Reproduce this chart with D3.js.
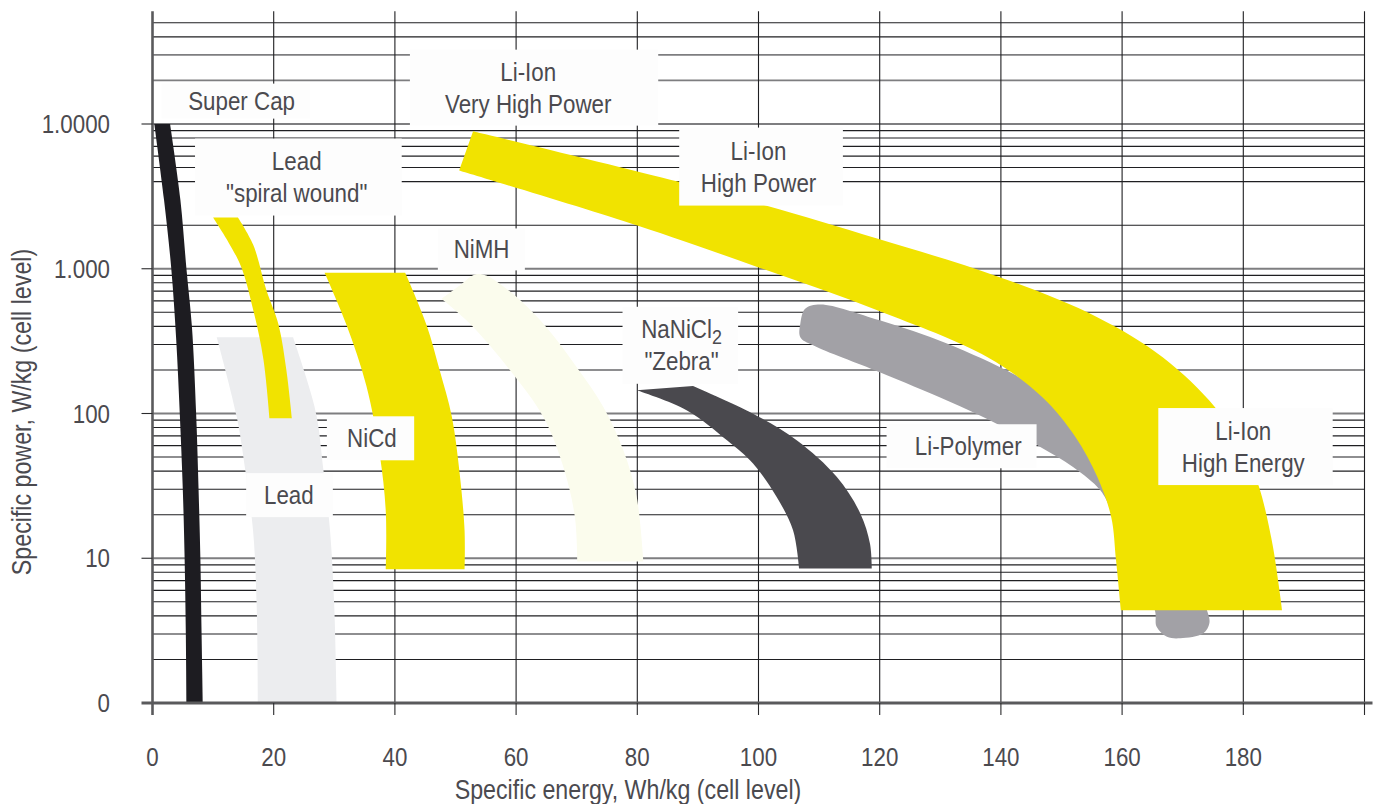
<!DOCTYPE html>
<html>
<head>
<meta charset="utf-8">
<script src="https://cdn.jsdelivr.net/npm/d3@7"></script>
<style>
  html, body { margin: 0; padding: 0; background: #ffffff; }
  svg { display: block; }
  text { font-family: "Liberation Sans", Arial, sans-serif; fill: #4b4a4f; }
</style>
</head>
<body>
<svg id="chart" width="1392" height="804"></svg>
<script>
// ---- axes ----
const energyTicks = [0, 20, 40, 60, 80, 100, 120, 140, 160, 180, 200];
const energyTickLabels = ["0", "20", "40", "60", "80", "100", "120", "140", "160", "180", ""];
const powerTicks = [1, 10, 100, 1000, 10000];
const powerTickLabels = ["0", "10", "100", "1.000", "1.0000"];
const powerTop = 60000;

// ---- technology regions: [specific energy Wh/kg, specific power W/kg] ----
const superCapLeft  = [[0.3, 10000], [1.9, 3000], [3.1, 1000], [3.9, 330], [4.5, 100], [5.0, 30], [5.3, 10], [5.5, 3], [5.6, 1]];
const superCapRight = [[2.9, 10000], [4.6, 3000], [5.6, 1000], [6.5, 400], [7.2, 100], [7.6, 30], [7.9, 10], [8.1, 3], [8.3, 1]];

const spiralOuter = [[14.1, 2260], [16.6, 1470], [18.8, 710], [20.8, 411], [22.1, 198], [23.0, 92.7]];
const spiralInner = [[10.0, 2260], [14.4, 1088], [16.6, 524], [18.3, 237], [19.3, 92.7]];

const leadLeft  = [[10.6, 336], [13.9, 95], [15.3, 40.8], [16.6, 15.4], [17.2, 4.56], [17.4, 1]];
const leadRight = [[23.2, 336], [25.4, 175], [27.1, 95], [28.2, 40.8], [29.3, 15.4], [30.0, 4.56], [30.4, 1]];

const nicdLeft  = [[28.4, 938], [32.0, 411], [35.3, 155], [37.5, 52], [38.5, 20.9], [38.5, 8.4]];
const nicdRight = [[41.7, 938], [45.2, 411], [47.4, 198], [49.4, 95], [50.7, 38], [51.5, 15.4], [51.5, 8.4]];

const nimhOuter = [[47.7, 621], [50.7, 767], [53.2, 914], [55.1, 899], [57.3, 788], [60.1, 637], [65.0, 395], [70.0, 209], [74.4, 111], [77.7, 55.7], [79.9, 26.5], [81.0, 9.5]];
const nimhInner = [[47.7, 621], [52.4, 417], [59.0, 199], [64.5, 94.6], [67.8, 42.7], [69.7, 19.3], [70.1, 9.5]];

const zebraOuter = [[89.2, 155], [99.1, 99.8], [106.3, 65.3], [112.9, 36.5], [116.8, 20.4], [118.4, 12.6], [118.7, 8.5]];
const zebraInner = [[79.9, 144.5], [88.2, 105], [94.8, 65.3], [99.1, 45.1], [103.0, 26.5], [105.7, 15.6], [106.7, 8.5]];

const liPolymerOutline = [[106.9, 337], [106.9, 417], [107.7, 530], [110.2, 567], [120.0, 440], [131.1, 304], [142.0, 188], [146.5, 145],
  [158.0, 55.7], [164.6, 25.2], [169.6, 9.7], [174.0, 4.38], [174.4, 3.55], [173.4, 3.03], [169.6, 2.80], [167.4, 2.87], [165.7, 3.36],
  [165.4, 4.38], [161.3, 9.7], [158.3, 20.9], [156.4, 29.5], [151.9, 42.7], [146.5, 58.7], [139.3, 85.1], [131.1, 123], [120.0, 193], [109.0, 296]];

const liIonOuter = [[52.9, 8910], [86.7, 4000], [101.2, 2735], [119.7, 1611], [139.8, 875], [155.9, 463], [166.7, 245], [175.3, 111], [180.0, 55], [182.5, 31.9], [184.8, 12.6], [186.4, 4.38]];
const liIonInner = [[50.6, 4770], [80.0, 1990], [99.9, 1026], [119.7, 515], [137.8, 245], [146.8, 130], [152.3, 68.8], [155.9, 36.5], [158.2, 19.3], [159.0, 9.7], [159.8, 4.38]];

// ---- region labels (anchor in data units) ----
const labelLines = [
  ["Super Cap"],
  ["Lead", "\"spiral wound\""],
  ["Li-Ion", "Very High Power"],
  ["Li-Ion", "High Power"],
  ["NiMH"],
  ["NiCd"],
  ["Lead"],
  ["NaNiCl_2", "\"Zebra\""],
  ["Li-Polymer"],
  ["Li-Ion", "High Energy"]
];
const labelEnergy = [14.7, 23.8, 62.0, 100.0, 54.3, 36.2, 22.5, 87.3, 134.6, 180.0];
const labelPower  = [14390, 4300, 17830, 5080, 1360, 67.4, 27.3, 296, 59.4, 59.1];

// label panel extents around the anchor, in pixels: [left, right, height]
const labelPanels = [[-80, 68.5, 35], [-101.7, 105, 77], [-118.3, 130, 76], [-79.3, 84.4, 78], [-43.7, 43.3, 42],
  [-45, 42.3, 44], [-42.7, 44, 44], [-59, 56.6, 77], [-81.6, 68.4, 44], [-85, 89.4, 77]];

// ---- drawing ----
const svg = d3.select("#chart");
const x = d3.scaleLinear().domain([0, 200]).range([152.5, 1364.5]);
const y = d3.scaleLog().domain([1, 10000]).range([703, 124]);

const gridG = svg.append("g");
const shapeG = svg.append("g");
const labelG = svg.append("g");
const axisG = svg.append("g");

// condensed lettering: regular face squeezed horizontally
const SQUEEZE = 0.86;
function addText(parent, px, py, str, size, anchor, rotate) {
  const g = parent.append("g")
    .attr("transform", `translate(${px},${py})` + (rotate ? ` rotate(${rotate})` : "") + ` scale(${SQUEEZE},1)`);
  const t = g.append("text")
    .attr("x", 0).attr("y", 0)
    .attr("text-anchor", anchor)
    .attr("font-size", size);
  const parts = str.split("_");
  t.append("tspan").text(parts[0]);
  if (parts[1]) t.append("tspan").attr("font-size", size * 0.8).attr("dy", 6).text(parts[1]);
  return t;
}

// horizontal grid: every log minor step up to 50 000 (the printed grid has no 3 000 line)
const gridPowers = y.copy().domain([1, 50000]).ticks().filter(v => v > 1 && v !== 3000);
const greyLines = [10, 100, 1000, 10000, 20000, 30000];
gridG.selectAll("line.h").data(gridPowers).join("line")
  .attr("x1", x(0)).attr("x2", x(200))
  .attr("y1", d => y(d)).attr("y2", d => y(d))
  .attr("stroke", d => greyLines.includes(d) ? "#7e7e80" : "#1f1f22")
  .attr("stroke-width", d => greyLines.includes(d) ? 1.8 : 1.1);

// vertical grid
gridG.selectAll("line.v").data(energyTicks.filter(v => v > 0)).join("line")
  .attr("x1", d => x(d)).attr("x2", d => x(d))
  .attr("y1", y(powerTop)).attr("y2", y(1))
  .attr("stroke", "#1f1f22").attr("stroke-width", 1.1);

// regions
const edge = d3.line().x(d => x(d[0])).y(d => y(d[1])).curve(d3.curveCatmullRom.alpha(0.5));
const closedOutline = d3.line().x(d => x(d[0])).y(d => y(d[1])).curve(d3.curveCatmullRomClosed.alpha(0.5));
function band(a, b) {
  const pb = edge(b.slice().reverse());
  return edge(a) + "L" + pb.slice(1) + "Z";
}

const regions = [
  { d: band(superCapLeft, superCapRight), fill: "#1d1c21" },
  { d: band(leadLeft, leadRight), fill: "#ecedef" },
  { d: band(spiralOuter, spiralInner), fill: "#f1e300" },
  { d: band(nicdLeft, nicdRight), fill: "#f1e300" },
  { d: band(nimhOuter, nimhInner), fill: "#fbfced" },
  { d: band(zebraOuter, zebraInner), fill: "#4a494e" },
  { d: closedOutline(liPolymerOutline), fill: "#a2a1a6" },
  { d: band(liIonOuter, liIonInner), fill: "#f1e300" }
];
shapeG.selectAll("path").data(regions).join("path")
  .attr("d", r => r.d).attr("fill", r => r.fill);

// labels with white panels
labelLines.forEach((lines, i) => {
  const cx = x(labelEnergy[i]);
  const cy = y(labelPower[i]);
  const [l, r, h] = labelPanels[i];
  const g = labelG.append("g");
  g.append("rect")
    .attr("x", cx + l).attr("y", cy - h / 2)
    .attr("width", r - l).attr("height", h)
    .attr("fill", "#fdfdfd");
  lines.forEach((line, j) => {
    addText(g, cx, cy + 9 + (j - (lines.length - 1) / 2) * 32, line, 26, "middle");
  });
});

// axis lines
axisG.append("line")
  .attr("x1", x(0)).attr("x2", x(0))
  .attr("y1", y(powerTop)).attr("y2", y(1) + 12)
  .attr("stroke", "#5a5a5c").attr("stroke-width", 2.6);
axisG.append("line")
  .attr("x1", x(0) - 11).attr("x2", x(200) + 8)
  .attr("y1", y(1)).attr("y2", y(1))
  .attr("stroke", "#5a5a5c").attr("stroke-width", 3);

// ticks
axisG.selectAll("line.xt").data(energyTicks.filter(v => v > 0)).join("line")
  .attr("x1", d => x(d)).attr("x2", d => x(d))
  .attr("y1", y(1)).attr("y2", y(1) + 12)
  .attr("stroke", "#2a2a2c").attr("stroke-width", 1.1);
axisG.selectAll("line.yt").data(powerTicks.filter(v => v > 1)).join("line")
  .attr("x1", x(0) - 11).attr("x2", x(0))
  .attr("y1", d => y(d)).attr("y2", d => y(d))
  .attr("stroke", "#2a2a2c").attr("stroke-width", 1.1);

// tick labels
energyTicks.forEach((v, i) => addText(axisG, x(v), 766, energyTickLabels[i], 26, "middle"));
powerTicks.forEach((v, i) => addText(axisG, 110, y(v) + 9, powerTickLabels[i], 26, "end"));

// axis titles
addText(axisG, 628, 799, "Specific energy, Wh/kg (cell level)", 27, "middle");
addText(axisG, 31, 412, "Specific power, W/kg (cell level)", 27, "middle", -90);
</script>
</body>
</html>
